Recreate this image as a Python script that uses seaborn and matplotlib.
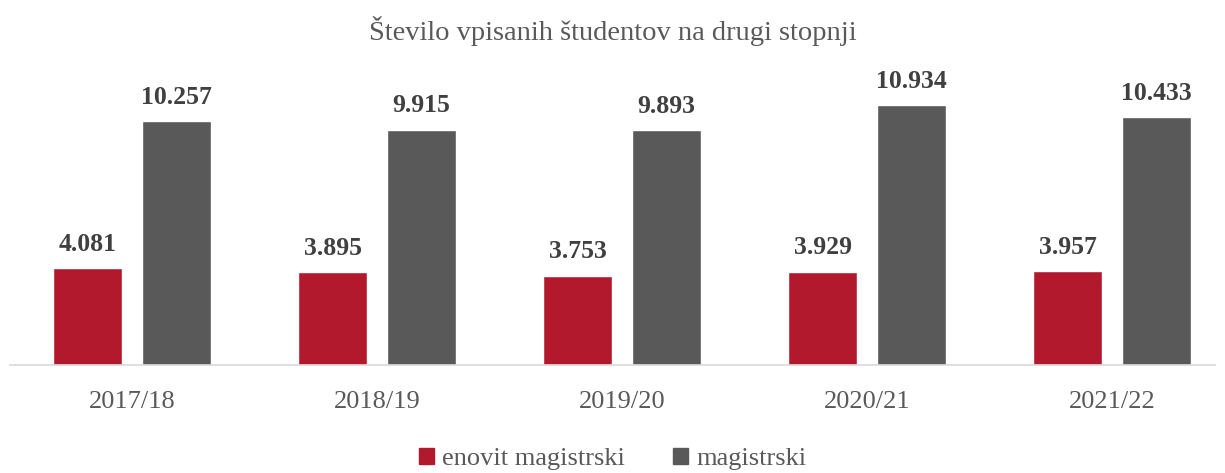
import matplotlib.pyplot as plt
import seaborn as sns
import pandas as pd

years = ["2017/18", "2018/19", "2019/20", "2020/21", "2021/22"]
enovit = [4081, 3895, 3753, 3929, 3957]
magistrski = [10257, 9915, 9893, 10934, 10433]
series = ["enovit magistrski", "magistrski"]
colors = ["#B3192D", "#595959"]

df = pd.DataFrame({
    "leto": years * 2,
    "vrsta": [series[0]] * len(years) + [series[1]] * len(years),
    "st": enovit + magistrski,
})

sns.set_theme(style="white")
plt.rcParams["font.family"] = ["Liberation Serif", "DejaVu Serif"]

fig = plt.figure(figsize=(12.25, 4.73), dpi=100)
ax = fig.add_axes([9.5 / 1225, 1 - 365 / 473, (1215 - 9.5) / 1225, (365 - 80) / 473])

sns.barplot(data=df, x="leto", y="st", hue="vrsta", palette=colors,
            width=0.7225, gap=0.22, saturation=1, ax=ax, legend=False)

for cont in ax.containers:
    ax.bar_label(cont, labels=[f"{v:,.0f}".replace(",", ".") for v in cont.datavalues],
                 padding=9, fontsize=18.5, fontweight="bold", color="#404040")

ax.set_xlim(-0.5, 4.42)
ax.set_ylim(0, 12000)
ax.set_xlabel("")
ax.set_ylabel("")
ax.set_yticks([])
ax.tick_params(axis="x", length=0, pad=19, labelsize=19, labelcolor="#595959")
for s in ["top", "right", "left"]:
    ax.spines[s].set_visible(False)
ax.spines["bottom"].set_color("#d9d9d9")
ax.spines["bottom"].set_linewidth(1.2)

fig.suptitle("Število vpisanih študentov na drugi stopnji", y=1 - 31 / 473, va="center",
             fontsize=20.5, color="#595959")

handles = [plt.Rectangle((0, 0), 1, 1, color=c) for c in colors]
fig.legend(handles, series, loc="center", bbox_to_anchor=(0.5, 1 - 459 / 473), ncol=2,
           frameon=False, fontsize=19, labelcolor="#595959", handlelength=0.6,
           handleheight=0.6, handletextpad=0.3, columnspacing=1.8)

fig.savefig("out.png", dpi=100)
